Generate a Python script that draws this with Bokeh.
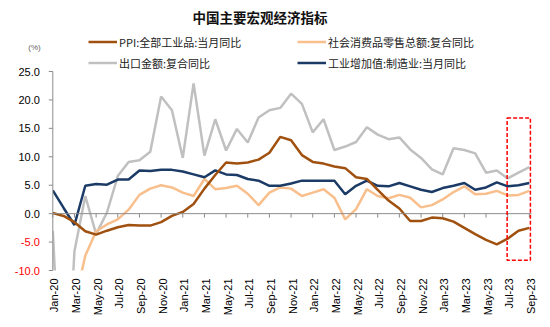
import math
from bokeh.plotting import figure
from bokeh.models import Range1d, Label, Legend, LegendItem, BoxAnnotation, ColumnDataSource
from bokeh.core.properties import value
from bokeh.embed import file_html
from bokeh.resources import INLINE

# ---------------- data ----------------
months = ["Jan-20", "Feb-20", "Mar-20", "Apr-20", "May-20", "Jun-20", "Jul-20", "Aug-20",
          "Sep-20", "Oct-20", "Nov-20", "Dec-20",
          "Jan-21", "Feb-21", "Mar-21", "Apr-21", "May-21", "Jun-21", "Jul-21", "Aug-21",
          "Sep-21", "Oct-21", "Nov-21", "Dec-21",
          "Jan-22", "Feb-22", "Mar-22", "Apr-22", "May-22", "Jun-22", "Jul-22", "Aug-22",
          "Sep-22", "Oct-22", "Nov-22", "Dec-22",
          "Jan-23", "Feb-23", "Mar-23", "Apr-23", "May-23", "Jun-23", "Jul-23", "Aug-23",
          "Sep-23"]

ppi = [0.1, -0.4, -1.5, -3.1, -3.7, -3.0, -2.4, -2.0, -2.1, -2.1, -1.5, -0.4,
       0.3, 1.7, 4.4, 6.8, 9.0, 8.8, 9.0, 9.5, 10.7, 13.5, 12.9, 10.3,
       9.1, 8.8, 8.3, 8.0, 6.4, 6.1, 4.2, 2.3, 0.9, -1.3, -1.3, -0.7,
       -0.8, -1.4, -2.5, -3.6, -4.6, -5.4, -4.4, -3.0, -2.5]

retail = [-20.5, -20.5, -15.8, -7.4, -3.1, -1.9, -1.0, 0.7, 3.3, 4.4, 5.0, 4.6,
          3.7, 3.1, 6.1, 4.3, 4.5, 4.9, 3.5, 1.5, 3.7, 4.6, 4.4, 3.1,
          3.7, 4.3, 2.8, -1.0, 0.8, 4.3, 3.1, 2.7, 3.3, 2.8, 1.1, 1.5,
          2.5, 3.8, 4.8, 3.4, 3.5, 4.0, 3.2, 3.3, 4.0]

export = [-3.0, -40.6, -6.6, 3.1, -3.6, 0.2, 6.6, 9.1, 9.4, 10.9, 20.6, 18.2,
          9.8, 22.9, 10.2, 16.6, 11.1, 14.9, 12.5, 16.9, 18.2, 18.6, 21.1, 19.3,
          14.3, 16.6, 11.2, 11.8, 12.6, 15.2, 13.9, 13.1, 13.4, 11.3, 9.8, 7.8,
          6.9, 11.5, 11.2, 10.6, 7.2, 7.6, 6.2, 7.2, 8.2]

iva = [4.1, 1.0, -2.0, 4.9, 5.2, 5.1, 6.0, 6.0, 7.6, 7.5, 7.7, 7.7,
       7.4, 6.9, 6.4, 7.6, 6.9, 6.8, 6.1, 5.8, 4.9, 4.9, 5.3, 5.8,
       5.8, 5.8, 5.8, 3.4, 4.9, 5.8, 4.9, 4.8, 5.4, 4.8, 4.2, 3.8,
       4.5, 4.9, 5.4, 4.2, 4.6, 5.5, 4.8, 5.0, 5.4]

series_names = ["PPI:全部工业品:当月同比", "社会消费品零售总额:复合同比",
                "出口金额:复合同比", "工业增加值:制造业:当月同比"]
title_text = "中国主要宏观经济指标"
unit_text = "(%)"
y_ticks = [-10, -5, 0, 5, 10, 15, 20, 25]
y_min, y_max = -10, 25
highlight = dict(left=41.95, right=44.1, bottom=-8.2, top=16.8)

# ---------------- layout (pixels) ----------------
W, H = 550, 327
PL, PR, PT, PB = 52.3, 531.0, 71.0, 270.0      # plot area in canvas px
x_end_plot = 44.2
MX = (PR - PL) / x_end_plot                      # px per month
MY = (PB - PT) / (y_max - y_min)                 # px per unit

def dx(px):   # canvas px -> data x
    return (px - PL) / MX

def dy(py):   # canvas px (from top) -> data y
    return y_min + (PB - py) / MY

x = list(range(len(months)))
x_ticks = x[::2]

p = figure(width=W, height=H, output_backend="svg", toolbar_location=None,
           x_range=Range1d(dx(0), dx(W)), y_range=Range1d(dy(H), dy(0)),
           x_axis_type=None, y_axis_type=None,
           min_border_left=0, min_border_right=0, min_border_top=0, min_border_bottom=0)
p.outline_line_color = None
p.background_fill_color = "white"
p.border_fill_color = "white"

AX = "#8C8C8C"
LAT = "Liberation Sans"
CJK = "Noto Sans CJK SC"

# ---------------- series ----------------
colors = ["#A0500F", "#F8BF8C", "#C0C0C0", "#1B3A66"]
r_exp = p.line(x, export, line_color=colors[2], line_width=2.5)
r_ret = p.line(x, retail, line_color=colors[1], line_width=2.5)
r_iva = p.line(x, iva, line_color=colors[3], line_width=2.5)
r_ppi = p.line(x, ppi, line_color=colors[0], line_width=2.5)

# mask outside plot area below the axis minimum
p.quad(left=[dx(-5)], right=[dx(W + 5)], bottom=[dy(H + 5)], top=[y_min],
       fill_color="white", line_color=None)
p.quad(left=[dx(-5)], right=[0], bottom=[dy(H + 5)], top=[dy(-5)],
       fill_color="white", line_color=None)

# ---------------- axes ----------------
# y axis line + ticks
p.segment(x0=[0], y0=[y_min], x1=[0], y1=[y_max], line_color=AX, line_width=1)
p.segment(x0=[0] * len(y_ticks), y0=y_ticks, x1=[dx(PL - 4)] * len(y_ticks), y1=y_ticks,
          line_color=AX, line_width=1)
ysrc = ColumnDataSource(dict(
    x=[dx(PL - 13)] * len(y_ticks), y=y_ticks,
    t=["%.1f" % v for v in y_ticks],
    c=["#FF0000" if v < 0 else "#000000" for v in y_ticks]))
p.text(x="x", y="y", text="t", text_color="c", source=ysrc, text_align="right",
       text_baseline="middle", text_font=value(LAT), text_font_size="11px")

# x axis at zero + ticks
p.segment(x0=[0], y0=[0], x1=[x_end_plot], y1=[0], line_color=AX, line_width=1)
p.segment(x0=x_ticks, y0=[0] * len(x_ticks), x1=x_ticks,
          y1=[-4 / MY] * len(x_ticks), line_color=AX, line_width=1)
xsrc = ColumnDataSource(dict(
    x=[i + 1.5 / MX for i in x_ticks], y=[dy(PB + 8)] * len(x_ticks),
    t=[months[i] for i in x_ticks]))
p.text(x="x", y="y", text="t", source=xsrc, angle=math.pi / 2, text_align="right",
       text_baseline="middle", text_color="#000000",
       text_font=value(LAT), text_font_size="11px")

# ---------------- highlight box ----------------
p.add_layout(BoxAnnotation(fill_alpha=0, line_color="#FF0000", line_alpha=1,
                           line_dash="4 2", line_width=1.5, **highlight))

# ---------------- texts ----------------
p.add_layout(Label(x=dx(34), y=dy(46.7), text=unit_text, text_align="center",
                   text_baseline="middle", text_color="#666666",
                   text_font=LAT, text_font_size="8px"))
p.add_layout(Label(x=dx(259.5), y=dy(16.7), text=title_text, text_align="center",
                   text_baseline="middle", text_color="#111111",
                   text_font=CJK, text_font_size="13.5px", text_font_style="bold"))

# ---------------- legends ----------------
LEG_ITEM_H, LEG_GAP = 17, 4
LEG_H = 2 * LEG_ITEM_H + LEG_GAP

def make_legend(items, left_px, top_px):
    lg = Legend(items=items, location=(left_px, H - (top_px + LEG_H)),
                orientation="vertical",
                glyph_width=29, glyph_height=LEG_ITEM_H, label_height=LEG_ITEM_H,
                label_standoff=2, spacing=LEG_GAP, padding=0, margin=0,
                border_line_alpha=0, background_fill_alpha=0, label_text_font=CJK,
                label_text_font_size="11px", label_text_color="#222222")
    p.add_layout(lg)

make_legend([LegendItem(label=series_names[0], renderers=[r_ppi]),
             LegendItem(label=series_names[2], renderers=[r_exp])], 88, 33.2)
make_legend([LegendItem(label=series_names[1], renderers=[r_ret]),
             LegendItem(label=series_names[3], renderers=[r_iva])], 297, 33.2)

open("out.html", "w").write(file_html(p, INLINE))
